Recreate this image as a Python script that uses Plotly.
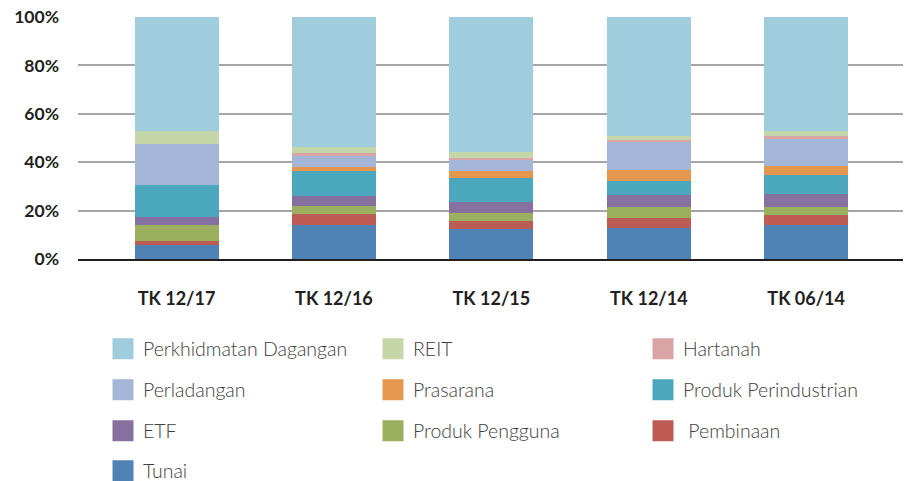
import plotly.graph_objects as go

categories = ["TK 12/17", "TK 12/16", "TK 12/15", "TK 12/14", "TK 06/14"]

# sector shares in %, bottom of the stack first
tunai = [5.6, 14.1, 12.2, 13.0, 13.9]
pembinaan = [1.9, 4.6, 3.6, 4.0, 4.4]
produk_pengguna = [6.6, 3.3, 3.3, 4.6, 3.3]
etf = [3.3, 4.1, 4.5, 4.9, 5.3]
produk_perindustrian = [13.2, 10.3, 9.9, 5.8, 7.9]
prasarana = [0.0, 1.6, 2.9, 4.5, 3.7]
perladangan = [16.9, 4.7, 4.7, 11.7, 11.1]
hartanah = [0.0, 1.3, 0.8, 0.8, 1.2]
reit = [5.4, 2.3, 2.3, 1.7, 2.1]
perkhidmatan = [47.1, 53.7, 55.8, 49.0, 47.1]

y_ticks = [0, 20, 40, 60, 80, 100]
y_tick_labels = ["0%", "20%", "40%", "60%", "80%", "100%"]

series = [
    ("Tunai", tunai, "#4F83B5"),
    (" Pembinaan", pembinaan, "#BD5B55"),
    ("Produk Pengguna", produk_pengguna, "#9BB05E"),
    ("ETF", etf, "#8670A0"),
    ("Produk Perindustrian", produk_perindustrian, "#4BA7BE"),
    ("Prasarana", prasarana, "#E5974E"),
    ("Perladangan", perladangan, "#A3B6D8"),
    ("Hartanah", hartanah, "#D9A5A4"),
    ("REIT", reit, "#C5D7A8"),
    ("Perkhidmatan Dagangan", perkhidmatan, "#A0CDDD"),
]

W, H = 903, 473  # page body keeps an 8px margin

fig = go.Figure()
for name, vals, col in series:
    fig.add_trace(go.Bar(name=name, x=categories, y=vals, marker_color=col,
                         marker_line_width=0, legendgroup=name, showlegend=False))

# one small legend per entry, laid out 3 per row like the original
legend_font = dict(family="Lato, 'Open Sans', sans-serif", size=19.5, color="#404040", weight=300)
col_x = [95, 365, 635]
row_y = [341, 382, 423, 463]
legend_layout = {}
for i, (name, vals, col) in enumerate(reversed(series)):
    lid = "legend" if i == 0 else "legend%d" % (i + 1)
    fig.add_trace(go.Scatter(
        name=name, x=[None], y=[None], mode="markers", legend=lid,
        legendgroup=name,
        marker=dict(symbol="square", size=16, color=col,
                    line=dict(color=col, width=5)),
    ))
    legend_layout[lid] = dict(
        xref="container", yref="container", orientation="h",
        x=col_x[i % 3] / W, xanchor="left",
        y=1 - row_y[i // 3] / H, yanchor="middle",
        font=legend_font, bgcolor="rgba(0,0,0,0)", itemclick=False,
    )

fig.update_layout(
    barmode="stack",
    bargap=0.466,
    width=W, height=H,
    margin=dict(l=70, r=3, t=9, b=222, autoexpand=False),
    plot_bgcolor="white", paper_bgcolor="white",
    font=dict(family="Lato, 'Open Sans', sans-serif", color="#231F20"),
    **legend_layout,
)
fig.update_xaxes(
    range=[-0.626, 4.647], showgrid=False, automargin=False,
    showline=True, linecolor="#231F20", linewidth=2,
    tickfont=dict(size=18, weight="bold", color="#231F20"),
    ticklabelstandoff=22,
)
fig.update_yaxes(
    range=[0, 100], tickvals=y_ticks, ticktext=y_tick_labels,
    showgrid=True, gridcolor="#A6A6A6", gridwidth=1.5, zeroline=False,
    automargin=False, ticklabeloverflow="allow",
    tickfont=dict(size=17.5, weight="bold", color="#231F20"),
    ticklabelstandoff=18,
)

fig.write_html("out.html")
